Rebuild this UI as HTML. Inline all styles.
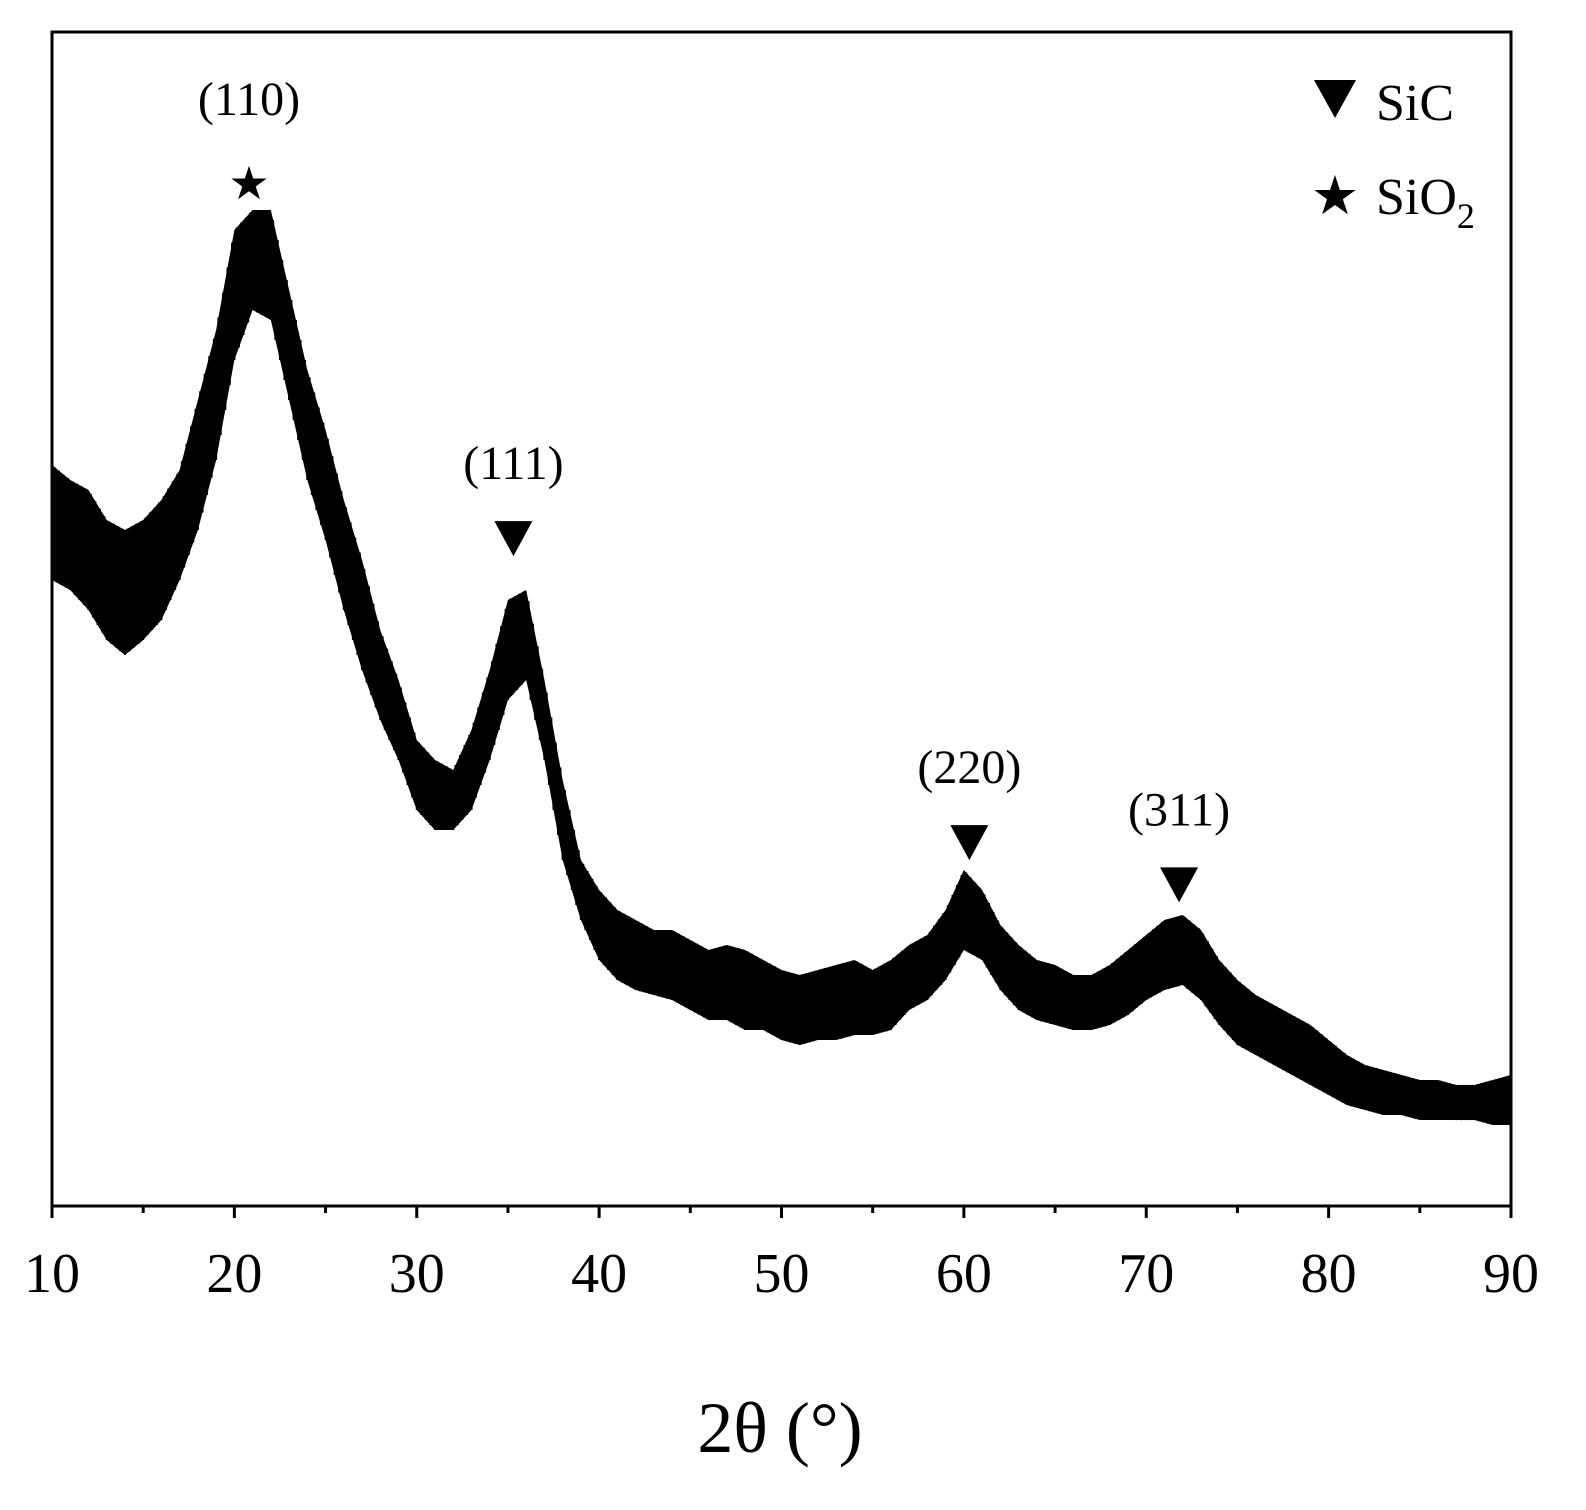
<!DOCTYPE html>
<html><head><meta charset="utf-8"><style>
html,body{margin:0;padding:0;background:#fff;overflow:hidden;width:1586px;height:1510px}
svg{display:block;position:absolute;left:0;top:0}
text{font-family:"Liberation Serif",serif;fill:#000}
</style></head><body>
<svg id="chart" width="1586" height="1510" viewBox="0 0 1586 1510">
<g id="plot"></g>
<rect x="52" y="32" width="1459" height="1174" fill="none" stroke="#000" stroke-width="3"/>
<g id="xaxis"></g>
<text x="780" y="1452" font-size="72" text-anchor="middle">2θ (°)</text>
<g id="ann"></g>
<g>
<polygon points="1314,80 1356,80 1335,118" fill="#000"/>
<text x="1376" y="120" font-size="52">SiC</text>
<text x="1335" y="214" font-size="54" text-anchor="middle">★</text>
<text x="1376" y="214" font-size="52">SiO<tspan font-size="36" dy="14">2</tspan></text>
</g>
</svg>
<script>
const angles=[10,11,12,13,14,15,16,17,18,19,20,21,22,23,24,25,26,27,28,29,30,31,32,33,34,35,36,37,38,39,40,41,42,43,44,45,46,47,48,49,50,51,52,53,54,55,56,57,58,59,60,61,62,63,64,65,66,67,68,69,70,71,72,73,74,75,76,77,78,79,80,81,82,83,84,85,86,87,88,89,90];
const upperPx=[465,480,490,520,530,520,500,470,400,330,230,210,210,290,370,430,500,560,630,680,740,760,770,730,670,600,590,680,780,860,890,910,920,930,930,940,950,945,950,960,970,975,970,965,960,970,960,945,935,910,870,890,925,945,960,965,975,975,965,950,935,920,915,930,960,980,995,1005,1015,1025,1040,1055,1065,1070,1075,1080,1080,1085,1085,1080,1075];
const lowerPx=[580,590,610,640,655,640,620,580,530,460,360,310,320,400,480,540,610,670,720,760,810,830,830,810,760,700,680,760,860,920,960,980,990,995,1000,1010,1020,1020,1030,1030,1040,1045,1040,1040,1035,1035,1030,1010,1000,980,950,960,990,1010,1020,1025,1030,1030,1025,1015,1000,990,985,1000,1025,1045,1055,1065,1075,1085,1095,1105,1110,1115,1115,1120,1120,1120,1120,1125,1125];
const upperI=upperPx.map(p=>(1206-p)/1174*1000);
const lowerI=lowerPx.map(p=>(1206-p)/1174*1000);
const xTicks=[10,20,30,40,50,60,70,80,90];
const peakLabels=["(110)","(111)","(220)","(311)"];
const peakAngles=[20.8,35.3,60.3,71.8];
const peakTypes=["star","tri","tri","tri"];
const peakLabelI=[936,626,367,331];

const NS="http://www.w3.org/2000/svg";
const X=a=>52+(a-10)*(1459/80);
const Y=i=>1206-i*1174/1000;
function interp(arr,a){const k=Math.min(Math.floor(a-10),arr.length-2);const t=a-10-k;return arr[k]*(1-t)+arr[k+1]*t;}
const plot=document.getElementById('plot');
let pts=[];
for(let k=0;k<angles.length;k++)pts.push(X(angles[k])+","+Y(upperI[k]));
for(let k=angles.length-1;k>=0;k--)pts.push(X(angles[k])+","+Y(lowerI[k]));
const band=document.createElementNS(NS,'polygon');
band.setAttribute('points',pts.join(' '));band.setAttribute('fill','#000');


plot.appendChild(band);
let z=[];let s=0;
for(let a=10;a<=90.0001;a+=0.125){const v=(s++%2)?interp(upperI,a):interp(lowerI,a);z.push(X(a).toFixed(1)+","+Y(v).toFixed(1));}
const line=document.createElementNS(NS,'polyline');
line.setAttribute('points',z.join(' '));line.setAttribute('fill','none');line.setAttribute('stroke','#000');line.setAttribute('stroke-width','2');


plot.appendChild(line);
const xa=document.getElementById('xaxis');
for(let a=10;a<=90;a+=5){const major=a%10===0;const t=document.createElementNS(NS,'line');
t.setAttribute('x1',X(a));t.setAttribute('x2',X(a));t.setAttribute('y1',1206);t.setAttribute('y2',1206+(major?12:7));t.setAttribute('stroke','#000');t.setAttribute('stroke-width','3');


xa.appendChild(t);}
xTicks.forEach(v=>{const t=document.createElementNS(NS,'text');t.setAttribute('x',X(v));t.setAttribute('y',1292);t.setAttribute('font-size','56');t.setAttribute('text-anchor','middle');t.textContent=v;


xa.appendChild(t);});
const ann=document.getElementById('ann');
peakAngles.forEach((a,k)=>{const x=X(a),y=Y(peakLabelI[k]);
const t=document.createElementNS(NS,'text');t.setAttribute('x',x);t.setAttribute('y',y+8);t.setAttribute('font-size','48');t.setAttribute('text-anchor','middle');t.textContent=peakLabels[k];


ann.appendChild(t);
if(peakTypes[k]==='tri'){const p=document.createElementNS(NS,'polygon');p.setAttribute('points',(x-19)+","+(y+50)+" "+(x+19)+","+(y+50)+" "+x+","+(y+85));


ann.appendChild(p);}
else{const st=document.createElementNS(NS,'text');st.setAttribute('x',x);st.setAttribute('y',y+92);st.setAttribute('font-size','46');st.setAttribute('text-anchor','middle');st.textContent='★';


ann.appendChild(st);}
});
</script>
</body></html>
